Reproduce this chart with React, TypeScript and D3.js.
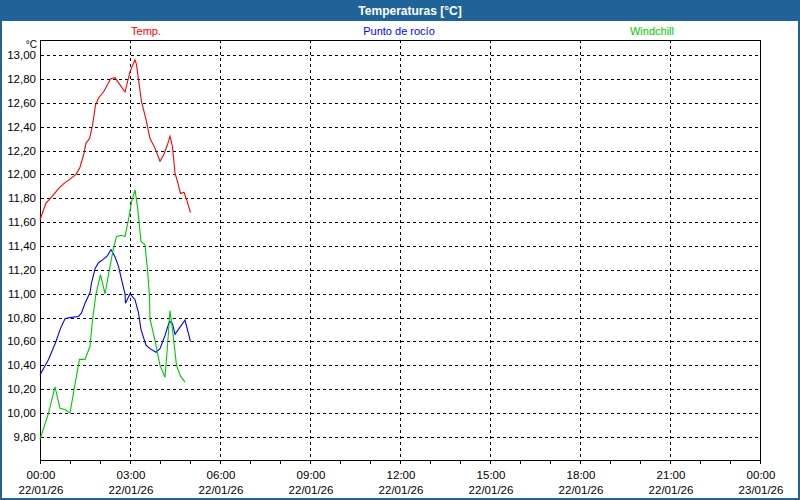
import React from "react";
import * as d3 from "d3";

// minutes after 22/01/26 00:00
const tempTimes = [0, 12, 23, 37, 47, 60, 72, 80, 87, 92, 99, 105, 111, 117, 127, 135, 141, 150, 160, 170, 180, 190, 193, 203, 212, 220, 230, 240, 247, 255, 260, 265, 270, 275, 281, 288, 293, 301];
const tempValues = [11.62, 11.76, 11.81, 11.88, 11.92, 11.96, 12.0, 12.06, 12.16, 12.26, 12.3, 12.41, 12.58, 12.64, 12.69, 12.75, 12.8, 12.81, 12.75, 12.69, 12.86, 12.96, 12.92, 12.61, 12.46, 12.3, 12.22, 12.11, 12.16, 12.25, 12.32, 12.23, 12.01, 11.94, 11.84, 11.85, 11.79, 11.68];

const dewTimes = [0, 17, 32, 41, 50, 59, 77, 83, 90, 100, 103, 110, 117, 127, 135, 142, 150, 157, 163, 170, 171, 180, 190, 197, 202, 212, 220, 232, 240, 250, 259, 265, 270, 280, 290, 301];
const dewValues = [10.32, 10.45, 10.6, 10.71, 10.79, 10.8, 10.81, 10.84, 10.92, 11.01, 11.09, 11.21, 11.26, 11.29, 11.32, 11.37, 11.31, 11.23, 11.12, 11.0, 10.92, 11.0, 10.95, 10.84, 10.7, 10.57, 10.54, 10.51, 10.54, 10.65, 10.77, 10.75, 10.66, 10.72, 10.78, 10.6];

const windTimes = [0, 17, 30, 40, 50, 60, 69, 79, 90, 100, 105, 112, 121, 130, 140, 147, 153, 163, 170, 177, 183, 190, 195, 202, 210, 215, 219, 220, 230, 240, 250, 255, 260, 265, 273, 281, 290];
const windValues = [9.78, 10.0, 10.22, 10.04, 10.03, 10.0, 10.22, 10.45, 10.45, 10.56, 10.78, 11.0, 11.16, 11.0, 11.23, 11.38, 11.48, 11.49, 11.48, 11.62, 11.77, 11.87, 11.73, 11.44, 11.41, 11.2, 10.98, 10.79, 10.61, 10.4, 10.3, 10.56, 10.86, 10.7, 10.4, 10.31, 10.26];

const yTicks = [9.8, 10.0, 10.2, 10.4, 10.6, 10.8, 11.0, 11.2, 11.4, 11.6, 11.8, 12.0, 12.2, 12.4, 12.6, 12.8, 13.0];
const xTickHours = [0, 3, 6, 9, 12, 15, 18, 21, 24];
const xTickLabels = ["00:00", "03:00", "06:00", "09:00", "12:00", "15:00", "18:00", "21:00", "00:00"];
const xTickDates = ["22/01/26", "22/01/26", "22/01/26", "22/01/26", "22/01/26", "22/01/26", "22/01/26", "22/01/26", "23/01/26"];
const minorHours = d3.range(0, 25);

const seriesNames = ["Temp.", "Punto de rocío", "Windchill"];

const W = 800, H = 500;
const L = 40, R = 760, T = 40, B = 460;
const FONT = "'Liberation Sans', Arial, sans-serif";
const BLUE_FRAME = "#1f6399";

export default function App() {
  const x = d3.scaleLinear().domain([0, 24 * 60]).range([L, R]);
  const y = d3.scaleLinear().domain([9.6073, 13.1257]).range([B, T]);
  const fmt = (v: number) => d3.format(".2f")(v).replace(".", ",");

  const mk = (ts: number[], vs: number[]) =>
    d3.line<number>().x((_, i) => x(ts[i])).y((_, i) => y(vs[i]))(vs.map((_, i) => i)) || "";

  const series = [
    { name: seriesNames[0], color: "#ff0000", d: mk(tempTimes, tempValues), lx: 146 },
    { name: seriesNames[1], color: "#0000ff", d: mk(dewTimes, dewValues), lx: 399 },
    { name: seriesNames[2], color: "#00c800", d: mk(windTimes, windValues), lx: 652 },
  ];

  return (
    <svg width={W} height={H} style={{ position: "absolute", left: 0, top: 0, background: "#fff" }} fontFamily={FONT}>
      <rect x={0} y={0} width={W} height={H} fill="#fff" />
      <rect x={0} y={0} width={W} height={21} fill={BLUE_FRAME} />
      <rect x={1} y={1} width={W - 2} height={H - 2} fill="none" stroke={BLUE_FRAME} strokeWidth={2} />
      <text x={410} y={15} textAnchor="middle" fill="#fff" fontWeight="bold" fontSize={12}>Temperaturas [°C]</text>

      {series.map((s) => (
        <text key={s.name} x={s.lx} y={35} textAnchor="middle" fill={s.color} fontSize={11}>{s.name}</text>
      ))}

      {/* horizontal grid */}
      {yTicks.map((v) => (
        <g key={v}>
          <line x1={L + 1} x2={R} y1={Math.round(y(v)) + 0.5} y2={Math.round(y(v)) + 0.5} stroke="#000" strokeDasharray="3,3" shapeRendering="crispEdges" />
          <text x={36} y={Math.round(y(v)) + 4} textAnchor="end" fontSize={11.5} fill="#000">{fmt(v)}</text>
        </g>
      ))}
      <text x={37} y={48} textAnchor="end" fontSize={10} fill="#000">°C</text>

      {/* vertical grid */}
      {xTickHours.slice(1, -1).map((h) => (
        <line key={h} x1={Math.round(x(h * 60)) + 0.5} x2={Math.round(x(h * 60)) + 0.5} y1={T} y2={B} stroke="#000" strokeDasharray="3,3" shapeRendering="crispEdges" />
      ))}

      {/* frame */}
      <line x1={L + 0.5} x2={L + 0.5} y1={T} y2={B + 1} stroke="#000" shapeRendering="crispEdges" />
      <line x1={L} x2={R + 1} y1={B + 0.5} y2={B + 0.5} stroke="#000" shapeRendering="crispEdges" />
      <line x1={L} x2={R + 1} y1={T + 0.5} y2={T + 0.5} stroke="#000" shapeRendering="crispEdges" />
      <line x1={R + 0.5} x2={R + 0.5} y1={T} y2={B + 1} stroke="#000" shapeRendering="crispEdges" />

      {minorHours.map((h) => (
        <line key={h} x1={Math.round(x(h * 60)) + 0.5} x2={Math.round(x(h * 60)) + 0.5} y1={B} y2={B + 4} stroke="#000" shapeRendering="crispEdges" />
      ))}
      {xTickHours.map((h, i) => (
        <g key={i}>
          <text x={x(h * 60) + 1} y={479} textAnchor="middle" fontSize={11.5} fill="#000">{xTickLabels[i]}</text>
          <text x={x(h * 60) + 1} y={494} textAnchor="middle" fontSize={11.5} fill="#000">{xTickDates[i]}</text>
        </g>
      ))}

      {series.map((s) => (
        <path key={s.name} d={s.d} fill="none" stroke={s.color} strokeWidth={1.1} />
      ))}
    </svg>
  );
}
